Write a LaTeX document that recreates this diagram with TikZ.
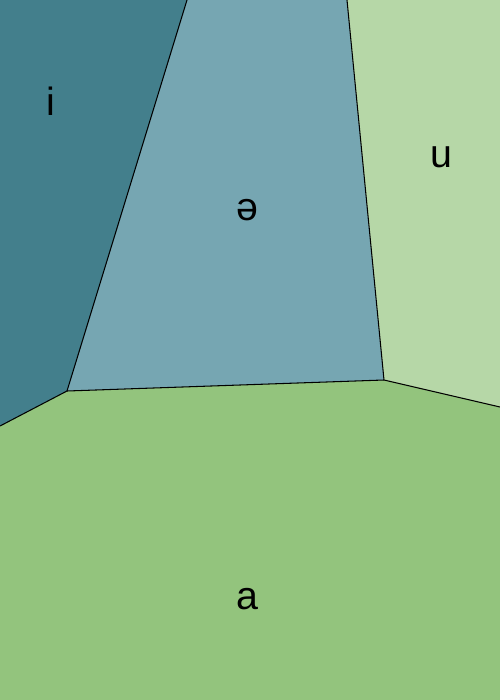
\documentclass[tikz,border=0pt]{standalone}
\usepackage{fontspec}
\setmainfont{Liberation Sans}
\definecolor{celli}{HTML}{437F8C}
\definecolor{cellschwa}{HTML}{76A6B2}
\definecolor{cellu}{HTML}{B6D7A7}
\definecolor{cella}{HTML}{93C47D}
\begin{document}
\begin{tikzpicture}[
    x=0.5mm, y=-0.5mm,
    edge/.style={draw=black, line width=1.5pt, line join=round},
    vowel/.style={font=\fontsize{56}{62}\selectfont, inner sep=0pt}
]
\useasboundingbox (0,0) rectangle (500,700);
% region corners
\coordinate (tl) at (0,0);
\coordinate (tr) at (500,0);
\coordinate (bl) at (0,700);
\coordinate (br) at (500,700);
\coordinate (vl) at (67,391);
\coordinate (vr) at (384,380);
\coordinate (el) at (0,426);
\coordinate (er) at (500,407);
\coordinate (ti) at (187,0);
\coordinate (tu) at (347,0);
% cells
\fill[celli] (tl) -- (ti) -- (vl) -- (el) -- cycle;
\fill[cellschwa] (ti) -- (tu) -- (vr) -- (vl) -- cycle;
\fill[cellu] (tu) -- (tr) -- (er) -- (vr) -- cycle;
\fill[cella] (el) -- (vl) -- (vr) -- (er) -- (br) -- (bl) -- cycle;
% borders
\draw[edge] (ti) -- (vl) -- (el);
\draw[edge] (tu) -- (vr) -- (er);
\draw[edge] (vl) -- (vr);
% labels
\node[vowel] (i) at (51,101) {i};
\node[vowel] (schwa) at (247,210) {ə};
\node[vowel] (u) at (441,157) {u};
\node[vowel] (a) at (247,599) {a};
\end{tikzpicture}
\end{document}
